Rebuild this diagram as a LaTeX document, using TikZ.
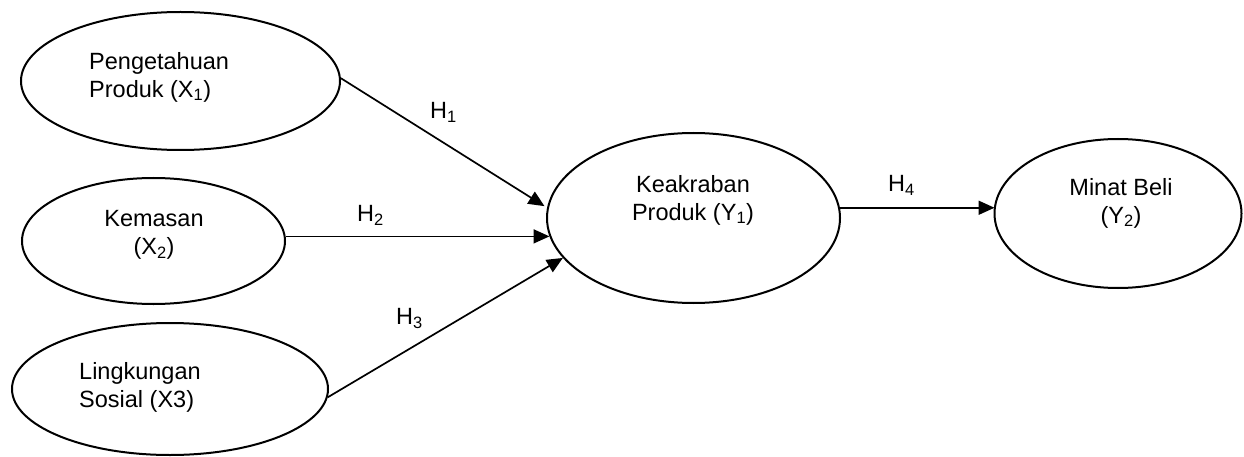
\documentclass[tikz,border=0pt]{standalone}
\usepackage{fontspec}
\setmainfont{Liberation Sans}
\usetikzlibrary{shapes.geometric,arrows.meta}

\tikzset{
  var/.style={ellipse, draw, line width=2pt, inner sep=0pt},
  txt/.style={inner sep=0pt, font=\fontsize{23.5}{28}\selectfont},
  hyp/.style={inner sep=0pt, font=\fontsize{23.5}{28}\selectfont, anchor=base west},
  arr/.style={line width=1.7pt, -{Triangle[length=16pt,width=14pt]}}
}

\begin{document}
\begin{tikzpicture}[x=1pt,y=-1pt]
\useasboundingbox (0,0) rectangle (1244,457);

% latent variables
\node[var, minimum width=319pt, minimum height=138pt] (p1) at (180.5,81) {};
\node[var, minimum width=263pt, minimum height=126pt] (p2) at (153.5,241) {};
\node[var, minimum width=316pt, minimum height=132pt] (p3) at (170,389) {};
\node[var, minimum width=293pt, minimum height=170pt] (k)  at (693.5,218) {};
\node[var, minimum width=247pt, minimum height=149pt] (m)  at (1118,213.5) {};

% variable names
\node[txt, anchor=north west, align=left]   (t1) at (89,52)    {Pengetahuan\\Produk (X\textsubscript{1})};
\node[txt, anchor=north, align=center]      (t2) at (154,210)  {Kemasan\\(X\textsubscript{2})};
\node[txt, anchor=north west, align=left]   (t3) at (79,362)   {Lingkungan\\Sosial (X3)};
\node[txt, anchor=north, align=center]      (tk) at (693,175)  {Keakraban\\Produk (Y\textsubscript{1})};
\node[txt, anchor=north, align=center]      (tm) at (1121,178) {Minat Beli\\(Y\textsubscript{2})};

% hypothesised paths
\draw[arr, shorten >=3pt] (p1.1) -- (k.176);
\draw[arr] (p2.2) -- ([xshift=3.5pt]p2.2 -| k.west);
\draw[arr] (p3.-3) -- (k.197);
\draw[arr] (k.4) -- ([xshift=1pt]k.4 -| m.west);

% path labels
\node[hyp] (h1) at (430,118.5) {H\textsubscript{1}};
\node[hyp] (h2) at (357,221.5) {H\textsubscript{2}};
\node[hyp] (h3) at (396,324.5) {H\textsubscript{3}};
\node[hyp] (h4) at (888,191.5) {H\textsubscript{4}};
\end{tikzpicture}
\end{document}
